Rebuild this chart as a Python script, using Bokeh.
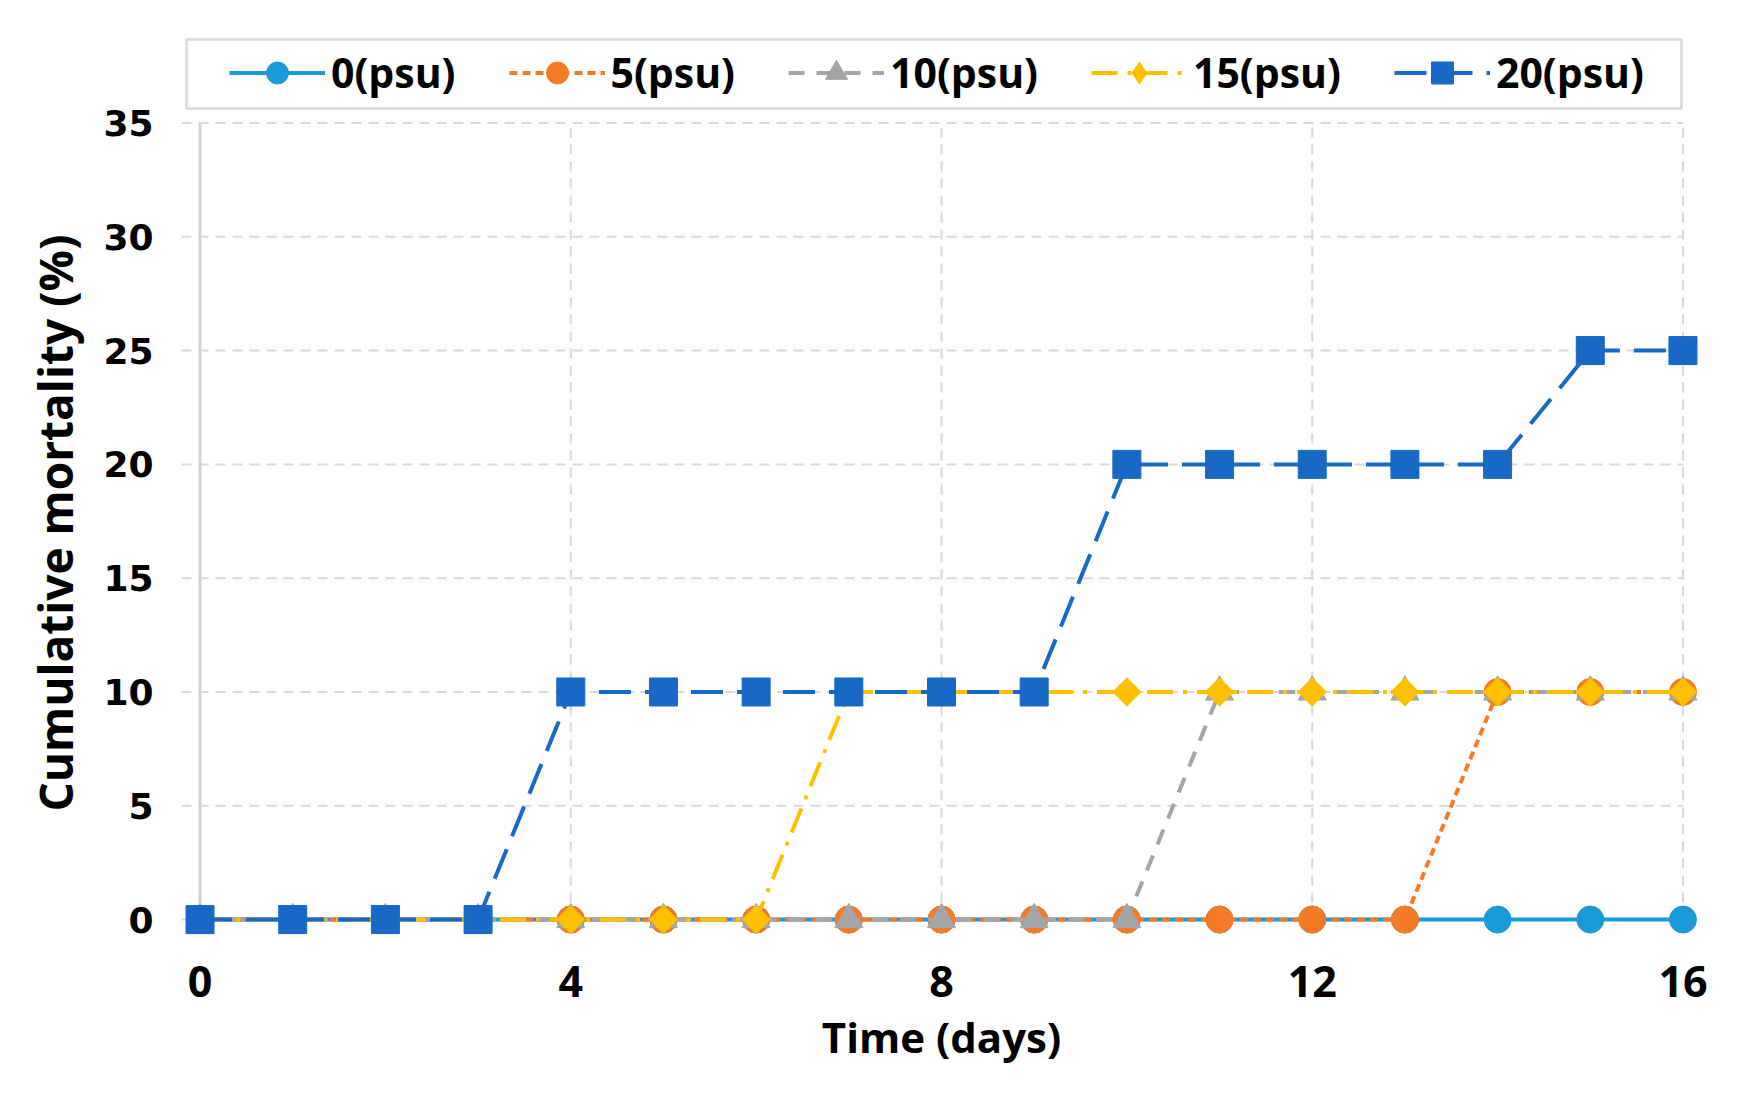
import math
from bokeh.plotting import figure
from bokeh.models import Range1d, FixedTicker, Legend, LegendItem, BoxAnnotation, Title
from bokeh.embed import file_html
from bokeh.resources import INLINE

# ---------------- data ----------------
days = [0, 1, 2, 3, 4, 5, 6, 7, 8, 9, 10, 11, 12, 13, 14, 15, 16]
psu0 = [0, 0, 0, 0, 0, 0, 0, 0, 0, 0, 0, 0, 0, 0, 0, 0, 0]
psu5 = [0, 0, 0, 0, 0, 0, 0, 0, 0, 0, 0, 0, 0, 0, 10, 10, 10]
psu10 = [0, 0, 0, 0, 0, 0, 0, 0, 0, 0, 0, 10, 10, 10, 10, 10, 10]
psu15 = [0, 0, 0, 0, 0, 0, 0, 10, 10, 10, 10, 10, 10, 10, 10, 10, 10]
psu20 = [0, 0, 0, 0, 10, 10, 10, 10, 10, 10, 20, 20, 20, 20, 20, 25, 25]
series_labels = ["0(psu)", "5(psu)", "10(psu)", "15(psu)", "20(psu)"]
x_ticks = [0, 4, 8, 12, 16]
y_ticks = [0, 5, 10, 15, 20, 25, 30, 35]

# ---------------- styles ----------------
styles = [
    dict(color="#1b9ad8", dash="solid", marker="circle", size=27, angle=0.0, lmarker="circle"),
    dict(color="#f47b25", dash="8 5", marker="circle", size=27, angle=0.0, lmarker="circle"),
    dict(color="#a5a5a5", dash="16 12", marker="triangle", size=28, angle=0.0, lmarker="triangle"),
    dict(color="#ffc000", dash="26 10 4 10", marker="square", size=20, angle=math.pi / 4, lmarker="diamond"),
    dict(color="#1868c6", dash="32 14", marker="square", size=28, angle=0.0, lmarker="square"),
]
GRID = "#d9d9d9"

# layout (canvas pixels)
FW, FH = 1520, 899
X_LO, X_HI = -0.2, 16.2
Y_LO, Y_HI = -0.7, 38.8
p = figure(
    frame_width=FW, frame_height=FH,
    x_range=Range1d(X_LO, X_HI), y_range=Range1d(Y_LO, Y_HI),
    output_backend="svg", toolbar_location=None,
    min_border_left=181, min_border_right=27,
    min_border_top=36, min_border_bottom=151,
)
p.outline_line_color = None
p.background_fill_color = "white"
p.border_fill_color = "white"
p.grid.grid_line_color = None

# axes
p.xaxis.ticker = FixedTicker(ticks=x_ticks)
p.yaxis.ticker = FixedTicker(ticks=y_ticks)
for ax in (p.xaxis, p.yaxis):
    ax.axis_line_color = None
    ax.major_tick_line_color = None
    ax.minor_tick_line_color = None
    ax.major_tick_out = 0
    ax.major_tick_in = 0
    ax.major_label_text_color = "black"
    ax.major_label_text_font_style = "bold"

p.xaxis.major_label_text_font = "Open Sans"
p.xaxis.major_label_text_font_size = "43px"
p.xaxis.major_label_standoff = 30
p.xaxis.axis_label = "Time (days)"
p.xaxis.axis_label_text_color = "black"
p.xaxis.axis_label_text_font = "Open Sans"
p.xaxis.axis_label_text_font_style = "bold"
p.xaxis.axis_label_text_font_size = "42px"
p.xaxis.axis_label_standoff = 8

p.yaxis.major_label_text_font = "DejaVu Sans"
p.yaxis.major_label_text_font_size = "36px"
p.yaxis.major_label_standoff = 28

ytitle = Title(text="Cumulative mortality (%)", align="left", offset=124,
               text_font="Open Sans", text_font_style="bold", text_font_size="46px",
               text_color="black", standoff=29)
p.add_layout(ytitle, "left")

# grid lines (drawn from the tick lists, bounded like the original chart)
p.segment(x0=x_ticks[1:], y0=[y_ticks[0]] * 4, x1=x_ticks[1:], y1=[y_ticks[-1]] * 4,
          line_color=GRID, line_width=2, line_dash="10 7", level="underlay")
p.segment(x0=[X_LO] * len(y_ticks), y0=y_ticks, x1=[x_ticks[-1]] * len(y_ticks), y1=y_ticks,
          line_color=GRID, line_width=2, line_dash="10 7", level="underlay")
# vertical axis line at x = 0
p.segment(x0=[x_ticks[0]], y0=[y_ticks[0]], x1=[x_ticks[0]], y1=[y_ticks[-1]],
          line_color="#d4d4d4", line_width=3, level="underlay")

# series
items = []
nan = float("nan")
for label, vals, st in zip(series_labels, [psu0, psu5, psu10, psu15, psu20], styles):
    ln = p.line(days, vals, line_color=st["color"], line_width=4, line_dash=st["dash"])
    p.scatter(days, vals, marker=st["marker"], size=st["size"], angle=st["angle"],
              fill_color=st["color"], line_color=st["color"], line_width=1)
    # legend-only marker
    lg = p.scatter([nan], [nan], marker=st["lmarker"], size=22,
                   fill_color=st["color"], line_color=st["color"], line_width=1)
    items.append(LegendItem(label=label, renderers=[ln, lg]))

# legend frame
p.add_layout(BoxAnnotation(left=186, right=1681, top=39, bottom=108,
                           left_units="canvas", right_units="canvas",
                           top_units="canvas", bottom_units="canvas",
                           fill_color="white", fill_alpha=1.0,
                           line_color="#808080", line_width=2.5))

legend = Legend(
    items=items, orientation="horizontal", location=(48, 835),
    label_text_font="Open Sans", label_text_font_style="bold",
    label_text_font_size="41px", label_text_color="black",
    glyph_width=96, glyph_height=55, label_height=55, label_standoff=6,
    spacing=53, padding=5, margin=0,
    border_line_color=None, background_fill_alpha=0.0,
)
p.add_layout(legend, "center")

open("out.html", "w").write(file_html(p, INLINE))
